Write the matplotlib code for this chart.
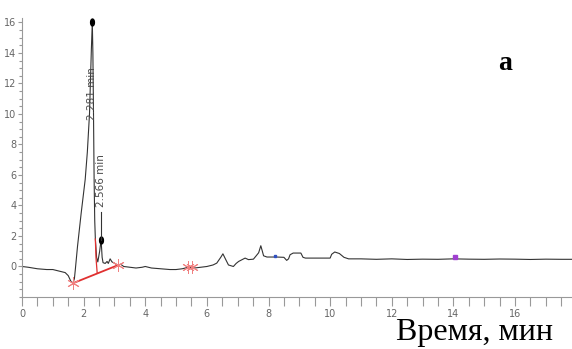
import matplotlib
matplotlib.use("Agg")
import matplotlib.pyplot as plt
from matplotlib.markers import MarkerStyle
from matplotlib.transforms import Affine2D

# chromatogram trace, time in min / signal
t = [0.0, 0.2, 0.5, 0.8, 1.0, 1.2, 1.4, 1.5, 1.58, 1.65, 1.7, 1.73, 1.8, 1.92,
     2.05, 2.12, 2.19, 2.25, 2.281, 2.30, 2.32, 2.34, 2.36, 2.38, 2.42, 2.46,
     2.52, 2.566, 2.60, 2.63, 2.70, 2.76, 2.80, 2.86, 2.92, 2.97, 3.05, 3.13,
     3.2, 3.3, 3.5, 3.7, 3.9, 4.0, 4.2, 4.5, 4.8, 5.0, 5.2, 5.4, 5.6, 5.8,
     6.0, 6.2, 6.32, 6.45, 6.52, 6.6, 6.7, 6.86, 6.95, 7.03, 7.24, 7.35, 7.51,
     7.6, 7.68, 7.75, 7.8, 7.84, 7.95, 8.26, 8.5, 8.59, 8.65, 8.7, 8.8, 9.05,
     9.12, 9.2, 10.0, 10.05, 10.15, 10.3, 10.45, 10.6, 11.0, 11.5, 12.0, 12.5,
     13.0, 13.5, 14.0, 14.5, 15.0, 15.5, 16.0, 16.5, 17.0, 17.5, 17.9]
sig = [0.0, -0.05, -0.15, -0.2, -0.2, -0.3, -0.4, -0.6, -0.95, -1.1, -0.8,
       -0.2, 1.3, 3.5, 5.7, 7.5, 10.0, 14.2, 16.0, 14.0, 10.0, 5.7, 3.0, 1.8,
       0.6, 0.3, 1.0, 1.76, 0.6, 0.25, 0.2, 0.33, 0.2, 0.5, 0.3, 0.25, 0.15,
       0.1, 0.15, 0.0, -0.05, -0.1, -0.05, 0.0, -0.1, -0.15, -0.2, -0.2, -0.15,
       -0.05, -0.1, -0.05, 0.0, 0.1, 0.22, 0.6, 0.83, 0.5, 0.1, 0.0, 0.2, 0.33,
       0.55, 0.45, 0.48, 0.7, 0.9, 1.36, 1.0, 0.7, 0.62, 0.62, 0.6, 0.4, 0.5,
       0.77, 0.88, 0.88, 0.6, 0.55, 0.55, 0.8, 0.95, 0.85, 0.6, 0.5, 0.5, 0.47,
       0.5, 0.46, 0.48, 0.47, 0.5, 0.48, 0.47, 0.49, 0.48, 0.46, 0.48, 0.47, 0.47]

# integrated peaks
peak_t = [2.281, 2.566]
peak_h = [16.0, 1.76]
peak_lbl = ["2.281 min", "2.566 min"]

# baseline drawn under the main peak, start/end marks
base_t = [1.65, 3.13]
base_y = [-1.1, 0.1]
drop_t = [2.38, 2.40, 2.44]
drop_y = [1.8, 0.6, -0.45]
extra_mark_t = [5.40, 5.51]
extra_mark_y = [-0.05, -0.05]

fig = plt.figure(figsize=(5.72, 3.49), dpi=100)
ax = fig.add_axes([0.0385, 0.149, 0.9615, 0.80])

ax.plot(t, sig, color="#333333", lw=0.8)

ax.plot(base_t, base_y, color="#e03030", lw=1.3)
ax.plot(drop_t, drop_y, color="#e03030", lw=0.9)
star = MarkerStyle((6, 2, 0))
ax.plot(base_t + extra_mark_t, base_y + extra_mark_y, ls="none", marker=star,
        ms=9, mew=0.7, color="#f08080")

# peak apex dots and retention time labels
dot = MarkerStyle("o", transform=Affine2D().scale(0.55, 1.0))
ax.plot(peak_t, peak_h, ls="none", marker=dot, ms=5, color="black")
ax.plot([peak_t[1], peak_t[1]], [peak_h[1], 3.6], color="#333333", lw=0.8)
ax.text(peak_t[0], 11.35, peak_lbl[0], rotation=90, ha="center", va="center",
        fontsize=7.5, color="#4a4a4a")
ax.text(peak_t[1], 5.63, peak_lbl[1], rotation=90, ha="center", va="center",
        fontsize=7.5, color="#4a4a4a")

# small marks on the trace
ax.plot([8.22], [0.66], ls="none", marker="s", ms=2, color="#3050c0")
ax.plot([14.05], [0.6], ls="none", marker="s", ms=2.5, color="#a040d0")

ax.set_xlim(0, 17.85)
ax.set_ylim(-2, 16.3)
ax.set_xticks(range(0, 18, 2))
ax.set_xticks([x / 2 for x in range(0, 36)], minor=True)
ax.set_yticks(range(0, 17, 2))
ax.set_yticks([y / 2 for y in range(-4, 33)], minor=True)

ax.spines["top"].set_visible(False)
ax.spines["right"].set_visible(False)
ax.spines["left"].set_color("#999999")
ax.spines["bottom"].set_color("#999999")

tick_font = ["Liberation Sans Narrow", "DejaVu Sans"]
ax.tick_params(axis="x", which="both", direction="out", length=6.3,
               width=0.8, color="#999999", pad=2, labelsize=7,
               labelcolor="#666666")
ax.tick_params(axis="y", which="major", direction="out", length=3.2,
               width=0.8, color="#999999", pad=1, labelsize=7,
               labelcolor="#666666")
ax.tick_params(axis="y", which="minor", direction="out", length=2.5,
               width=0.8, color="#999999")
for lab in ax.get_xticklabels() + ax.get_yticklabels():
    lab.set_family(tick_font)

fig.text(0.883, 0.817, "a", fontsize=20, fontweight="bold",
         family="Liberation Serif", ha="center", va="center")
fig.text(0.829, 0.046, "Время, мин", fontsize=23, family="Liberation Serif",
         ha="center", va="center")

fig.savefig("out.png", dpi=100)
